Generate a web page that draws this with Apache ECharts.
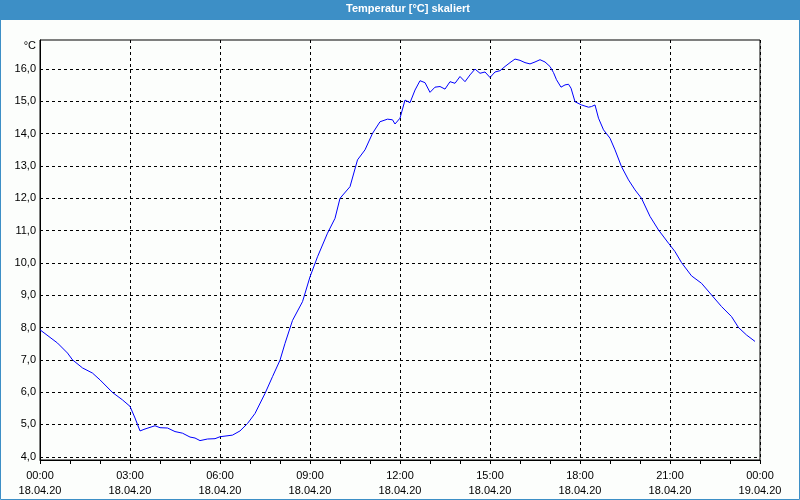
<!DOCTYPE html>
<html>
<head>
<meta charset="utf-8">
<script src="https://cdn.jsdelivr.net/npm/echarts@6/dist/echarts.min.js"></script>
<style>
  html, body { margin: 0; padding: 0; background: #fcfefc; }
  #chart { width: 800px; height: 500px; }
</style>
</head>
<body>
<div id="chart"></div>
<script>
// minutes since 18.04.20 00:00
const minutes = [
  0, 35, 55, 65, 85, 105, 120, 145, 165, 180, 190, 200, 210, 230, 240, 255, 270, 285,
  300, 310, 320, 335, 350, 360, 385, 400, 415, 430, 450, 465, 480, 490, 505, 525,
  540, 555, 575, 590, 600, 620, 635, 650, 665, 680, 695, 705, 710, 720, 730, 740,
  750, 760, 770, 780, 790, 800, 810, 820, 830, 840, 850, 860, 870, 880, 890, 900,
  910, 920, 930, 940, 950, 960, 970, 980, 990, 1000, 1010, 1020, 1027, 1033, 1042, 1050,
  1057, 1062, 1070, 1083, 1097, 1103, 1110, 1117, 1127, 1140, 1150, 1163, 1177, 1190, 1203, 1220,
  1237, 1257, 1270, 1283, 1303, 1323, 1343, 1363, 1383, 1397, 1413, 1430
];
const temps = [
  7.93, 7.52, 7.21, 7.0, 6.75, 6.59, 6.38, 5.99, 5.76, 5.56, 5.2, 4.80, 4.86, 4.96, 4.90, 4.89, 4.78, 4.73,
  4.61, 4.58, 4.50, 4.55, 4.56, 4.62, 4.67, 4.80, 5.03, 5.34, 5.96, 6.48, 6.99, 7.51, 8.22, 8.80,
  9.57, 10.19, 10.92, 11.38, 12.0, 12.36, 13.19, 13.50, 14.01, 14.37, 14.45, 14.43, 14.30, 14.48, 15.04, 14.96,
  15.35, 15.64, 15.58, 15.28, 15.44, 15.46, 15.38, 15.61, 15.56, 15.77, 15.61, 15.82, 16.0, 15.87, 15.91, 15.74,
  15.91, 15.95, 16.08, 16.2, 16.31, 16.27, 16.2, 16.16, 16.22, 16.29, 16.22, 16.08, 15.89, 15.67, 15.44, 15.51,
  15.53, 15.41, 14.99, 14.89, 14.82, 14.84, 14.89, 14.48, 14.12, 13.86, 13.50, 12.98, 12.57, 12.26, 12.0, 11.44,
  11.02, 10.61, 10.35, 10.01, 9.6, 9.37, 9.01, 8.65, 8.34, 8.0, 7.77, 7.57
];
const yTicks = [4, 5, 6, 7, 8, 9, 10, 11, 12, 13, 14, 15, 16];

const font = '"Liberation Sans Narrow", "Liberation Sans", sans-serif';
const blue = '#3d8fc6';

const chart = echarts.init(document.getElementById('chart'));
chart.setOption({
  backgroundColor: '#fcfefc',
  animation: false,
  title: {
    text: 'Temperatur [°C] skaliert',
    left: 346,
    top: 3,
    padding: 0,
    textStyle: { color: '#fff', fontSize: 11, fontWeight: 'bold', fontFamily: 'Liberation Sans, sans-serif' }
  },
  graphic: [
    { type: 'rect', z: -1, shape: { x: 0, y: 0, width: 800, height: 20 }, style: { fill: blue } },
    { type: 'rect', z: -1, shape: { x: 0.5, y: 0.5, width: 799, height: 499 }, style: { fill: null, stroke: blue, lineWidth: 1 } }
  ],
  grid: {
    left: 40, right: 40, top: 40, bottom: 40,
    show: true, borderColor: '#000', borderWidth: 1
  },
  xAxis: {
    type: 'value',
    min: 0,
    max: 1440,
    interval: 180,
    axisLine: { lineStyle: { color: '#000', width: 1 } },
    axisTick: { show: true, length: 4, lineStyle: { color: '#000' } },
    minorTick: { show: true, splitNumber: 3, length: 4, lineStyle: { color: '#000' } },
    splitLine: { show: true, lineStyle: { color: '#000', type: [3, 3], width: 1 } },
    axisLabel: {
      margin: 8,
      color: '#000',
      fontSize: 11,
      fontFamily: font,
      lineHeight: 15,
      showMinLabel: true,
      showMaxLabel: true,
      formatter: v => {
        const h = Math.floor(v / 60) % 24;
        const m = v % 60;
        const day = v >= 1440 ? '19.04.20' : '18.04.20';
        return String(h).padStart(2, '0') + ':' + String(m).padStart(2, '0') + '\n' + day;
      }
    }
  },
  yAxis: {
    type: 'value',
    min: 3.9,
    max: 16.9,
    name: '°C',
    nameLocation: 'end',
    nameGap: -6,
    nameTextStyle: { color: '#000', fontSize: 11, fontFamily: font, align: 'right', verticalAlign: 'middle', padding: [0, 4, 0, 0] },
    axisLine: { show: true, lineStyle: { color: '#000', width: 1 } },
    axisTick: { show: false, customValues: yTicks },
    splitLine: { show: true, lineStyle: { color: '#000', type: [3, 3], width: 1 } },
    axisLabel: {
      customValues: yTicks,
      margin: 4,
      color: '#000',
      fontSize: 11,
      fontFamily: font,
      formatter: v => v.toFixed(1).replace('.', ',')
    }
  },
  series: [{
    type: 'line',
    data: minutes.map((m, i) => [m, temps[i]]),
    showSymbol: false,
    lineStyle: { color: '#0000ff', width: 1 },
    itemStyle: { color: '#0000ff' }
  }]
});
</script>
</body>
</html>
